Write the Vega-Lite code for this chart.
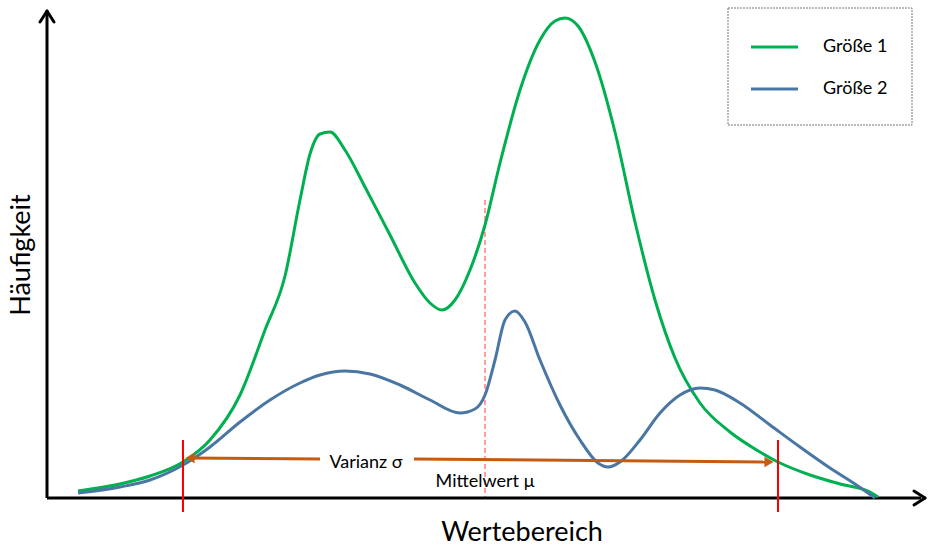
{
  "$schema": "https://vega.github.io/schema/vega-lite/v6.json",
  "width": 929,
  "height": 549,
  "autosize": "none",
  "padding": 0,
  "background": "white",
  "config": {"view": {"stroke": null}},
  "datasets": {
    "curves": [
      {"s":"Größe 1","i":1,"x":78,"y":491},{"s":"Größe 1","i":2,"x":120,"y":484},{"s":"Größe 1","i":3,"x":150,"y":476},{"s":"Größe 1","i":4,"x":183,"y":462},{"s":"Größe 1","i":5,"x":210,"y":440},{"s":"Größe 1","i":6,"x":240,"y":395},{"s":"Größe 1","i":7,"x":265,"y":330},{"s":"Größe 1","i":8,"x":285,"y":276},{"s":"Größe 1","i":9,"x":300,"y":200},{"s":"Größe 1","i":10,"x":310,"y":154},{"s":"Größe 1","i":11,"x":320,"y":134},{"s":"Größe 1","i":12,"x":330,"y":132},{"s":"Größe 1","i":13,"x":345,"y":150},{"s":"Größe 1","i":14,"x":365,"y":187},{"s":"Größe 1","i":15,"x":390,"y":235},{"s":"Größe 1","i":16,"x":415,"y":283},{"s":"Größe 1","i":17,"x":430,"y":303},{"s":"Größe 1","i":18,"x":442,"y":310},{"s":"Größe 1","i":19,"x":455,"y":300},{"s":"Größe 1","i":20,"x":470,"y":270},{"s":"Größe 1","i":21,"x":485,"y":225},{"s":"Größe 1","i":22,"x":500,"y":163},{"s":"Größe 1","i":23,"x":520,"y":90},{"s":"Größe 1","i":24,"x":540,"y":40},{"s":"Größe 1","i":25,"x":555,"y":21},{"s":"Größe 1","i":26,"x":565,"y":18},{"s":"Größe 1","i":27,"x":578,"y":26},{"s":"Größe 1","i":28,"x":595,"y":62},{"s":"Größe 1","i":29,"x":615,"y":132},{"s":"Größe 1","i":30,"x":635,"y":222},{"s":"Größe 1","i":31,"x":655,"y":300},{"s":"Größe 1","i":32,"x":675,"y":358},{"s":"Größe 1","i":33,"x":700,"y":403},{"s":"Größe 1","i":34,"x":730,"y":432},{"s":"Größe 1","i":35,"x":760,"y":452},{"s":"Größe 1","i":36,"x":778,"y":462},{"s":"Größe 1","i":37,"x":810,"y":475},{"s":"Größe 1","i":38,"x":840,"y":484},{"s":"Größe 1","i":39,"x":870,"y":492},{"s":"Größe 1","i":40,"x":878,"y":497},
      {"s":"Größe 2","i":1,"x":78,"y":493},{"s":"Größe 2","i":2,"x":120,"y":487},{"s":"Größe 2","i":3,"x":150,"y":480},{"s":"Größe 2","i":4,"x":183,"y":465},{"s":"Größe 2","i":5,"x":210,"y":447},{"s":"Größe 2","i":6,"x":240,"y":422},{"s":"Größe 2","i":7,"x":270,"y":400},{"s":"Größe 2","i":8,"x":300,"y":383},{"s":"Größe 2","i":9,"x":320,"y":375},{"s":"Größe 2","i":10,"x":345,"y":371},{"s":"Größe 2","i":11,"x":370,"y":374},{"s":"Größe 2","i":12,"x":400,"y":385},{"s":"Größe 2","i":13,"x":430,"y":400},{"s":"Größe 2","i":14,"x":460,"y":413},{"s":"Größe 2","i":15,"x":475,"y":409},{"s":"Größe 2","i":16,"x":485,"y":395},{"s":"Größe 2","i":17,"x":495,"y":360},{"s":"Größe 2","i":18,"x":505,"y":320},{"s":"Größe 2","i":19,"x":515,"y":311},{"s":"Größe 2","i":20,"x":525,"y":322},{"s":"Größe 2","i":21,"x":540,"y":360},{"s":"Größe 2","i":22,"x":560,"y":405},{"s":"Größe 2","i":23,"x":580,"y":440},{"s":"Größe 2","i":24,"x":598,"y":463},{"s":"Größe 2","i":25,"x":608,"y":467},{"s":"Größe 2","i":26,"x":620,"y":462},{"s":"Größe 2","i":27,"x":640,"y":440},{"s":"Größe 2","i":28,"x":660,"y":413},{"s":"Größe 2","i":29,"x":680,"y":395},{"s":"Größe 2","i":30,"x":700,"y":388},{"s":"Größe 2","i":31,"x":715,"y":390},{"s":"Größe 2","i":32,"x":740,"y":403},{"s":"Größe 2","i":33,"x":770,"y":425},{"s":"Größe 2","i":34,"x":800,"y":447},{"s":"Größe 2","i":35,"x":830,"y":468},{"s":"Größe 2","i":36,"x":855,"y":484},{"s":"Größe 2","i":37,"x":875,"y":498}
    ]
  },
  "resolve": {"scale": {"x": "shared", "y": "shared"}},
  "layer": [
    {
      "data": {"values": [{"x1":728,"x2":912,"y1":8,"y2":125}]},
      "mark": {"type": "rect", "fill": "white", "stroke": "#777777", "strokeDash": [2,1], "strokeWidth": 1},
      "encoding": {
        "x": {"field": "x1", "type": "quantitative", "scale": {"domain": [0,929], "nice": false, "zero": false}, "axis": null},
        "x2": {"field": "x2"},
        "y": {"field": "y1", "type": "quantitative", "scale": {"domain": [0,549], "nice": false, "zero": false, "reverse": true}, "axis": null},
        "y2": {"field": "y2"}
      }
    },
    {
      "data": {"values": [{"x1":485,"x2":485,"y1":200,"y2":498}]},
      "mark": {"type": "rule", "color": "#ff8080", "strokeDash": [5,3], "strokeWidth": 1.5},
      "encoding": {
        "x": {"field": "x1", "type": "quantitative"}, "x2": {"field": "x2"},
        "y": {"field": "y1", "type": "quantitative"}, "y2": {"field": "y2"}
      }
    },
    {
      "data": {"values": [{"x1":47,"x2":47,"y1":498,"y2":14},{"x1":47,"x2":921,"y1":498,"y2":498}]},
      "mark": {"type": "rule", "color": "black", "strokeWidth": 3},
      "encoding": {
        "x": {"field": "x1", "type": "quantitative"}, "x2": {"field": "x2"},
        "y": {"field": "y1", "type": "quantitative"}, "y2": {"field": "y2"}
      }
    },
    {
      "data": {"values": [{"x1":40,"x2":47,"y1":22,"y2":11},{"x1":54,"x2":47,"y1":22,"y2":11},{"x1":914,"x2":925,"y1":491,"y2":498},{"x1":914,"x2":925,"y1":505,"y2":498}]},
      "mark": {"type": "rule", "color": "black", "strokeWidth": 3, "strokeCap": "round"},
      "encoding": {
        "x": {"field": "x1", "type": "quantitative"}, "x2": {"field": "x2"},
        "y": {"field": "y1", "type": "quantitative"}, "y2": {"field": "y2"}
      }
    },
    {
      "data": {"name": "curves"},
      "mark": {"type": "line", "interpolate": "monotone", "strokeWidth": 3},
      "encoding": {
        "x": {"field": "x", "type": "quantitative"},
        "y": {"field": "y", "type": "quantitative"},
        "order": {"field": "i", "type": "quantitative"},
        "color": {"field": "s", "type": "nominal", "scale": {"domain": ["Größe 1","Größe 2"], "range": ["#00b050","#4a76a3"]}, "legend": null}
      }
    },
    {
      "data": {"values": [{"x1":190,"x2":320,"y1":458,"y2":459},{"x1":414,"x2":766,"y1":459,"y2":462}]},
      "mark": {"type": "rule", "color": "#c55a11", "strokeWidth": 3},
      "encoding": {
        "x": {"field": "x1", "type": "quantitative"}, "x2": {"field": "x2"},
        "y": {"field": "y1", "type": "quantitative"}, "y2": {"field": "y2"}
      }
    },
    {
      "data": {"values": [{"x":190,"y":458,"shape":"triangle-left"},{"x":769,"y":462,"shape":"triangle-right"}]},
      "mark": {"type": "point", "filled": true, "color": "#c55a11", "size": 110, "opacity": 1},
      "encoding": {
        "x": {"field": "x", "type": "quantitative"},
        "y": {"field": "y", "type": "quantitative"},
        "shape": {"field": "shape", "type": "nominal", "scale": null}
      }
    },
    {
      "data": {"values": [{"x1":183,"x2":183,"y1":440,"y2":512},{"x1":778,"x2":778,"y1":440,"y2":512}]},
      "mark": {"type": "rule", "color": "#ff0000", "strokeWidth": 2},
      "encoding": {
        "x": {"field": "x1", "type": "quantitative"}, "x2": {"field": "x2"},
        "y": {"field": "y1", "type": "quantitative"}, "y2": {"field": "y2"}
      }
    },
    {
      "data": {"values": [{"x1":751,"x2":798,"y1":47,"y2":47,"s":"Größe 1"},{"x1":751,"x2":798,"y1":89,"y2":89,"s":"Größe 2"}]},
      "mark": {"type": "rule", "strokeWidth": 3},
      "encoding": {
        "x": {"field": "x1", "type": "quantitative"}, "x2": {"field": "x2"},
        "y": {"field": "y1", "type": "quantitative"}, "y2": {"field": "y2"},
        "color": {"field": "s", "type": "nominal", "legend": null}
      }
    },
    {
      "data": {"values": [{"x":823,"y":47,"t":"Größe 1"},{"x":823,"y":89,"t":"Größe 2"}]},
      "mark": {"type": "text", "align": "left", "baseline": "middle", "font": "Lato", "fontSize": 18, "color": "black"},
      "encoding": {
        "x": {"field": "x", "type": "quantitative"},
        "y": {"field": "y", "type": "quantitative"},
        "text": {"field": "t"}
      }
    },
    {
      "data": {"values": [{"x":366,"y":463,"t":"Varianz σ"},{"x":485,"y":482,"t":"Mittelwert μ"}]},
      "mark": {"type": "text", "align": "center", "baseline": "middle", "font": "Lato", "fontSize": 18, "color": "black"},
      "encoding": {
        "x": {"field": "x", "type": "quantitative"},
        "y": {"field": "y", "type": "quantitative"},
        "text": {"field": "t"}
      }
    },
    {
      "data": {"values": [{"x":522,"y":541,"t":"Wertebereich"}]},
      "mark": {"type": "text", "align": "center", "baseline": "alphabetic", "font": "Lato", "fontSize": 27, "color": "black"},
      "encoding": {
        "x": {"field": "x", "type": "quantitative"},
        "y": {"field": "y", "type": "quantitative"},
        "text": {"field": "t"}
      }
    },
    {
      "data": {"values": [{"x":22,"y":255,"t":"Häufigkeit"}]},
      "mark": {"type": "text", "align": "center", "baseline": "middle", "font": "Lato", "fontSize": 27, "angle": 270, "color": "black"},
      "encoding": {
        "x": {"field": "x", "type": "quantitative"},
        "y": {"field": "y", "type": "quantitative"},
        "text": {"field": "t"}
      }
    }
  ]
}
